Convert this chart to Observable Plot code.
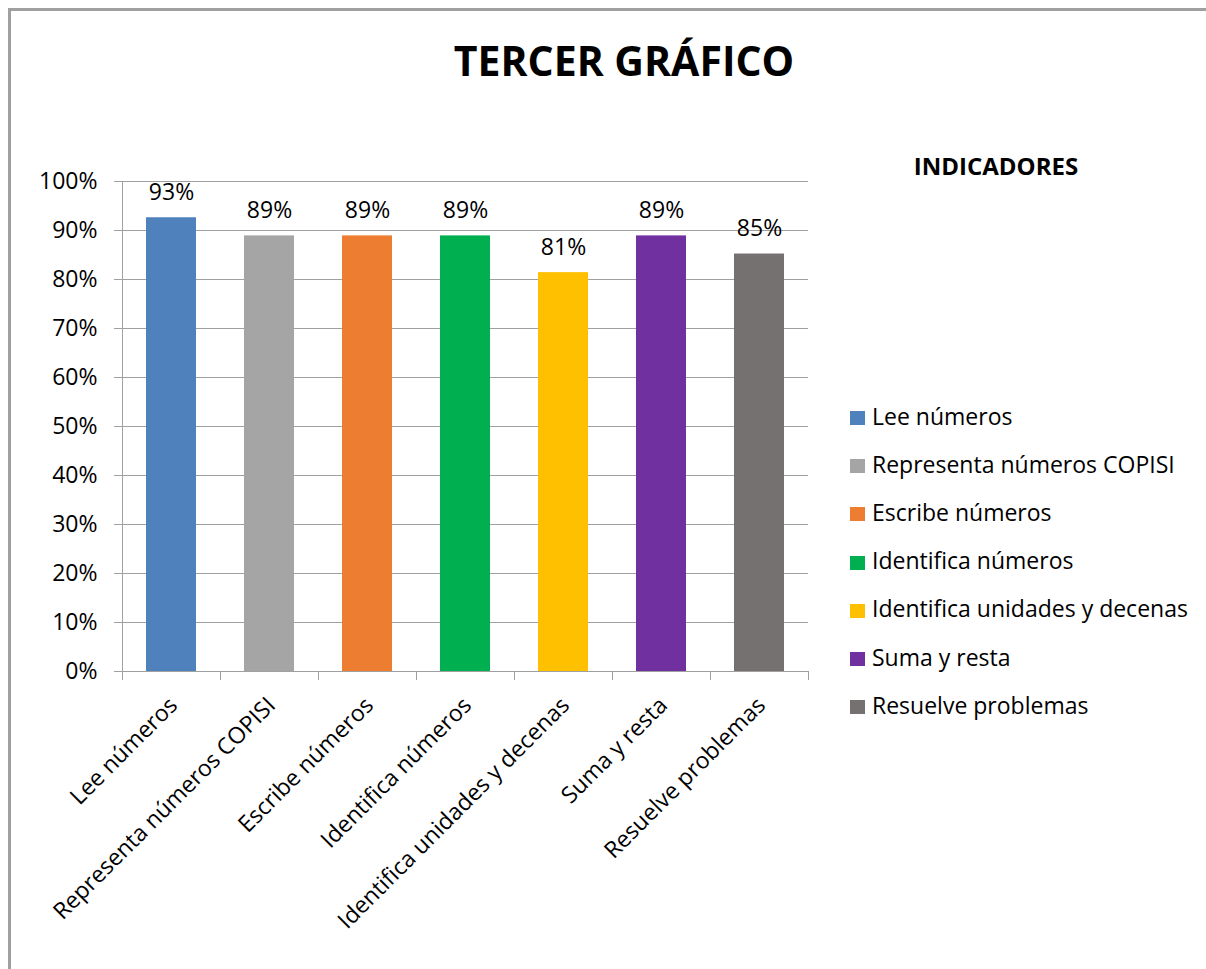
<!DOCTYPE html>
<html>
<head>
<meta charset="utf-8">
<script src="https://cdn.jsdelivr.net/npm/d3@7"></script>
<script src="https://cdn.jsdelivr.net/npm/@observablehq/plot@0.6"></script>
<style>
  html, body { margin: 0; padding: 0; background: #fff; overflow: hidden; }
  body { width: 1206px; height: 969px; position: relative; font-family: "Open Sans", sans-serif; color: #000; }
  #frame { position: absolute; left: 8px; top: 8px; width: 1400px; height: 1200px; border: 3px solid #a0a0a0; box-sizing: border-box; }
  #title { position: absolute; left: 0; top: 40px; width: 1248px; text-align: center; font-size: 41px; line-height: 41px; font-weight: 700; }
  #chart { position: absolute; left: 0; top: 0; }
  #legend-title { position: absolute; left: 896px; width: 200px; top: 154px; text-align: center; font-size: 24px; line-height: 24px; font-weight: 700; }
  .item { position: absolute; left: 850px; font-size: 23px; line-height: 23px; white-space: nowrap; }
  .sw { position: absolute; left: 0; width: 15px; height: 14px; }
  .lbl { position: absolute; left: 22px; top: 0; }
</style>
</head>
<body>
<div id="frame"></div>
<div id="title">TERCER GRÁFICO</div>
<div id="chart"></div>
<div id="legend-title">INDICADORES</div>
<div id="legend"></div>
<script>
const categories = ["Lee números", "Representa números COPISI", "Escribe números", "Identifica números", "Identifica unidades y decenas", "Suma y resta", "Resuelve problemas"];
const values = [0.926, 0.889, 0.889, 0.889, 0.814, 0.889, 0.852];
const colors = ["#4F81BD", "#A5A5A5", "#ED7D31", "#00B050", "#FFC000", "#7030A0", "#767171"];
const yTicks = [0, 0.1, 0.2, 0.3, 0.4, 0.5, 0.6, 0.7, 0.8, 0.9, 1.0];

const data = categories.map((c, i) => ({category: c, value: values[i], color: colors[i]}));
const step = (808 - 122) / categories.length;
const grid = "#a0a0a0";

const chart = Plot.plot({
  width: 830,
  height: 969,
  marginLeft: 122,
  marginRight: 22,
  marginTop: 181,
  marginBottom: 298,
  style: {fontFamily: "Open Sans, sans-serif", fontSize: "23px", color: "#000", background: "transparent"},
  x: {domain: categories, paddingInner: 0.49, paddingOuter: 0.245, axis: null},
  y: {domain: [0, 1], axis: null},
  color: {domain: categories, range: colors},
  marks: [
    Plot.ruleY(yTicks, {stroke: grid, strokeWidth: 1, insetLeft: -8}),
    Plot.frame({anchor: "left", stroke: grid}),
    Plot.ruleX(categories, {x: d => d, dx: -step / 2, y1: 0, y2: 0, insetBottom: -9, stroke: grid}),
    Plot.ruleX([categories[categories.length - 1]], {x: d => d, dx: step / 2, y1: 0, y2: 0, insetBottom: -9, stroke: grid}),
    Plot.text(yTicks, {y: d => d, frameAnchor: "left", text: d => Math.round(d * 100) + "%", textAnchor: "end", dx: -25, fill: "#000"}),
    Plot.barY(data, {x: "category", y: "value", fill: "category"}),
    Plot.text(data, {x: "category", y: "value", text: d => Math.round(d.value * 100) + "%", lineAnchor: "bottom", dy: -18, fill: "#000"}),
    Plot.text(categories, {x: d => d, frameAnchor: "bottom", text: d => d, rotate: -45, textAnchor: "end", lineAnchor: "middle", dx: 2, dy: 30, fill: "#000"})
  ]
});
document.getElementById("chart").appendChild(chart);

const legend = document.getElementById("legend");
categories.forEach((c, i) => {
  const baseline = 425 + 48.2 * i;
  const item = document.createElement("div");
  item.className = "item";
  item.style.top = (baseline - 0.888 * 23) + "px";
  item.innerHTML = `<div class="sw" style="background:${colors[i]};top:${0.888 * 23 - 14}px"></div><div class="lbl">${c}</div>`;
  legend.appendChild(item);
});
</script>
</body>
</html>
